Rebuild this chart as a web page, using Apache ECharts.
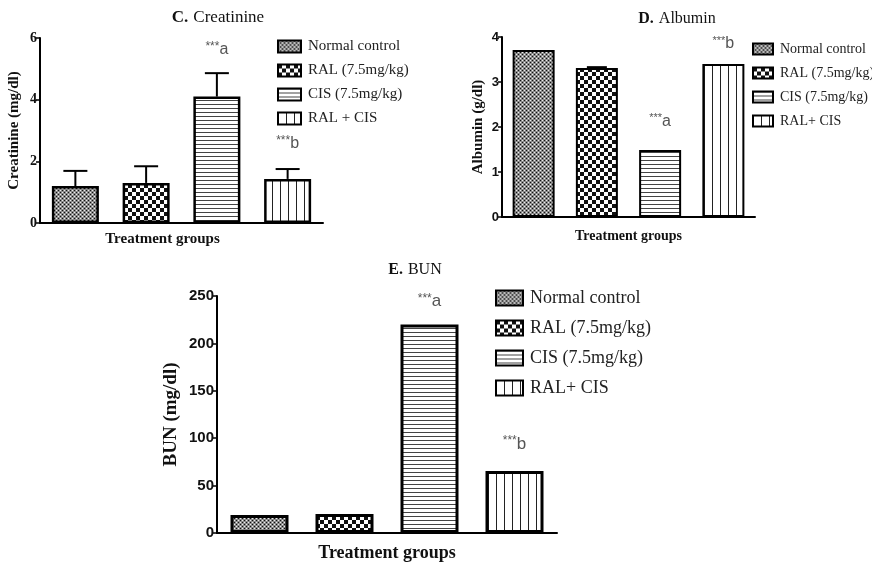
<!DOCTYPE html>
<html>
<head>
<meta charset="utf-8">
<script src="https://cdn.jsdelivr.net/npm/echarts@6/dist/echarts.min.js"></script>
<style>
html,body{margin:0;padding:0;background:#fff;}
#c{width:872px;height:567px;}
</style>
</head>
<body>
<div id="c"></div>
<script>
// ---------- data ----------
const groups = ['Normal control', 'RAL (7.5mg/kg)', 'CIS (7.5mg/kg)', 'RAL + CIS'];
const groupsAlt = ['Normal control', 'RAL (7.5mg/kg)', 'CIS (7.5mg/kg)', 'RAL+ CIS'];
const creatinineMean = [1.2, 1.3, 4.1, 1.43];
const creatinineSem = [0.49, 0.54, 0.76, 0.32];
const albuminMean = [3.71, 3.31, 1.49, 3.40];
const albuminSem = [0, 0.02, 0, 0];
const bunMean = [19, 20, 220, 65.5];
const sigMarks = ['', '', 'a', 'b'];
const creatinineTicks = [0, 2, 4, 6];
const albuminTicks = [0, 1, 2, 3, 4];
const bunTicks = [0, 50, 100, 150, 200, 250];

// ---------- patterns ----------
function tile(w, h, draw) {
  const c = document.createElement('canvas');
  c.width = w; c.height = h;
  const ctx = c.getContext('2d');
  draw(ctx);
  return { image: c, repeat: 'repeat' };
}
const patNormal = () => tile(4, 4, ctx => {
  ctx.fillStyle = '#8a8a8a'; ctx.fillRect(0, 0, 4, 4);
  ctx.fillStyle = '#111'; ctx.fillRect(0, 0, 1, 1); ctx.fillRect(2, 2, 1, 1);
  ctx.fillStyle = '#eee'; ctx.fillRect(2, 0, 1, 1); ctx.fillRect(0, 2, 1, 1);
});
const patRAL = () => tile(8, 8, ctx => {
  ctx.fillStyle = '#fff'; ctx.fillRect(0, 0, 8, 8);
  ctx.fillStyle = '#111'; ctx.fillRect(0, 0, 4, 4); ctx.fillRect(4, 4, 4, 4);
});
const patCIS = () => tile(4, 4, ctx => {
  ctx.fillStyle = '#fff'; ctx.fillRect(0, 0, 4, 4);
  ctx.fillStyle = '#444'; ctx.fillRect(0, 0, 4, 1);
});
const patCombo = () => tile(8, 8, ctx => {
  ctx.fillStyle = '#fff'; ctx.fillRect(0, 0, 8, 8);
  ctx.fillStyle = '#222'; ctx.fillRect(0, 0, 1, 8);
});
const patterns = [patNormal(), patRAL(), patCIS(), patCombo()];

const serif = 'Liberation Serif';
const sans = 'Liberation Sans';

// ---------- chart specs (styles/layout) ----------
const charts = [
  { key: 'C', title: 'Creatinine', yName: 'Creatinine (mg/dl)', mean: creatinineMean, sem: creatinineSem, names: groups,
    ticks: creatinineTicks, grid: { left: 40, top: 38, width: 283, height: 185 },
    titlePos: { left: 213, top: 4 }, titleSize: 17,
    legend: { left: 277, top: 39, w: 23, h: 12, gap: 9, font: 15 },
    yNameGap: 18, yNameSize: 15, tickFont: serif, tickSize: 14, xNameGap: 9, xNameSize: 15, xNamePad: [0, 38, 0, 0],
    barWidth: 47, border: 2.5, labelDist: [0, 0, 38, 26], errorCap: 12, sigSize: [12, 16] },
  { key: 'D', title: 'Albumin', yName: 'Albumin (g/dl)', mean: albuminMean, sem: albuminSem, names: groupsAlt,
    ticks: albuminTicks, grid: { left: 502, top: 37, width: 253, height: 180 },
    titlePos: { left: 672, top: 5 }, titleSize: 16,
    legend: { left: 752, top: 42, w: 20, h: 11, gap: 10, font: 14 },
    yNameGap: 16, yNameSize: 15, tickFont: sans, tickSize: 13, xNameGap: 12, xNameSize: 14, xNamePad: [0, 0, 0, 0],
    barWidth: 42, border: 2, labelDist: [0, 0, 20, 12], errorCap: 10, sigSize: [11, 16] },
  { key: 'E', title: 'BUN', yName: 'BUN (mg/dl)', mean: bunMean, sem: null, names: groupsAlt,
    ticks: bunTicks, grid: { left: 217, top: 296, width: 340, height: 237 },
    titlePos: { left: 410, top: 256 }, titleSize: 16,
    legend: { left: 495, top: 289, w: 27, h: 15, gap: 12, font: 18 },
    yNameGap: 36, yNameSize: 19, tickFont: sans, tickSize: 15, xNameGap: 11, xNameSize: 18, xNamePad: [0, 0, 0, 0],
    barWidth: 58, border: 3, labelDist: [0, 0, 14, 18], errorCap: 12, sigSize: [12, 17] }
];

const option = {
  animation: false,
  backgroundColor: '#fff',
  title: [], legend: [], grid: [], xAxis: [], yAxis: [], series: []
};

charts.forEach((ch, ci) => {
  option.title.push({
    text: '{b|' + ch.key + '.} {n|' + ch.title + '}',
    left: ch.titlePos.left, top: ch.titlePos.top, textAlign: 'center',
    textStyle: { fontWeight: 'normal', rich: {
      b: { fontFamily: serif, fontWeight: 'bold', fontSize: ch.titleSize, color: '#111' },
      n: { fontFamily: serif, fontWeight: 'normal', fontSize: ch.titleSize, color: '#111' }
    } }
  });
  option.legend.push({
    data: ch.names.map(n => ({ name: n, icon: 'rect' })),
    orient: 'vertical', left: ch.legend.left, top: ch.legend.top,
    itemWidth: ch.legend.w, itemHeight: ch.legend.h, itemGap: ch.legend.gap,
    selectedMode: false, padding: 0,
    itemStyle: { borderColor: '#000', borderWidth: 2 },
    textStyle: { fontFamily: serif, fontSize: ch.legend.font, color: '#222', padding: [0, 0, 0, 2] }
  });
  option.grid.push(Object.assign({ containLabel: false }, ch.grid));
  const dataAxis = option.xAxis.length;
  option.xAxis.push({
    type: 'category', gridIndex: ci, data: groups, position: 'bottom',
    axisLine: { show: false }, axisTick: { show: false }, axisLabel: { show: false }
  });
  option.xAxis.push({
    type: 'category', gridIndex: ci, data: [''], position: 'bottom',
    name: 'Treatment groups', nameLocation: 'middle', nameGap: ch.xNameGap,
    nameTextStyle: { fontFamily: serif, fontWeight: 'bold', fontSize: ch.xNameSize, color: '#111', padding: ch.xNamePad },
    axisLine: { lineStyle: { color: '#000', width: 2 } },
    axisTick: { alignWithLabel: true, length: 5, lineStyle: { color: '#000', width: 1.5 } },
    axisLabel: { show: false }
  });
  const maxV = ch.ticks[ch.ticks.length - 1];
  option.yAxis.push({
    type: 'value', gridIndex: ci, min: ch.ticks[0], max: maxV, interval: ch.ticks[1] - ch.ticks[0],
    name: ch.yName, nameLocation: 'middle', nameRotate: 90, nameGap: ch.yNameGap,
    nameTextStyle: { fontFamily: serif, fontWeight: 'bold', fontSize: ch.yNameSize, color: '#111' },
    axisLine: { show: true, lineStyle: { color: '#000', width: 2 } },
    axisTick: { show: true, length: 4, lineStyle: { color: '#000', width: 1.5 } },
    axisLabel: { fontFamily: ch.tickFont, fontWeight: 'bold', fontSize: ch.tickSize, color: '#111', margin: 3 },
    splitLine: { show: false }
  });
  ch.names.forEach((name, i) => {
    const mark = sigMarks[i];
    option.series.push({
      type: 'bar', name: name, xAxisIndex: dataAxis, yAxisIndex: ci,
      barWidth: ch.barWidth, barGap: '-100%', z: 3,
      itemStyle: { color: patterns[i], borderColor: '#000', borderWidth: ch.border },
      label: mark ? {
        show: true, position: 'top', distance: ch.labelDist[i],
        formatter: '{s|***}{m|' + mark + '}',
        rich: {
          s: { fontFamily: sans, fontSize: ch.sigSize[0], color: '#555', verticalAlign: 'top', padding: [0, 0, 6, 0] },
          m: { fontFamily: sans, fontSize: ch.sigSize[1], color: '#555' }
        }
      } : { show: false },
      data: ch.mean.map((v, j) => j === i ? v : '-')
    });
  });
  if (ch.sem) {
    option.series.push({
      type: 'custom', xAxisIndex: dataAxis, yAxisIndex: ci, z: 2,
      renderItem: (params, api) => {
        const x = api.value(0), m = api.value(1), e = api.value(2);
        if (!e) return null;
        const p0 = api.coord([x, m]);
        const p1 = api.coord([x, m + e]);
        const cap = ch.errorCap;
        return { type: 'group', children: [
          { type: 'line', shape: { x1: p0[0], y1: p0[1], x2: p1[0], y2: p1[1] }, style: { stroke: '#000', lineWidth: 2 } },
          { type: 'line', shape: { x1: p1[0] - cap, y1: p1[1], x2: p1[0] + cap, y2: p1[1] }, style: { stroke: '#000', lineWidth: 2 } }
        ] };
      },
      data: ch.mean.map((v, j) => [j, v, ch.sem[j]])
    });
  }
});

const chart = echarts.init(document.getElementById('c'), null, { renderer: 'canvas' });
chart.setOption(option);
</script>
</body>
</html>
